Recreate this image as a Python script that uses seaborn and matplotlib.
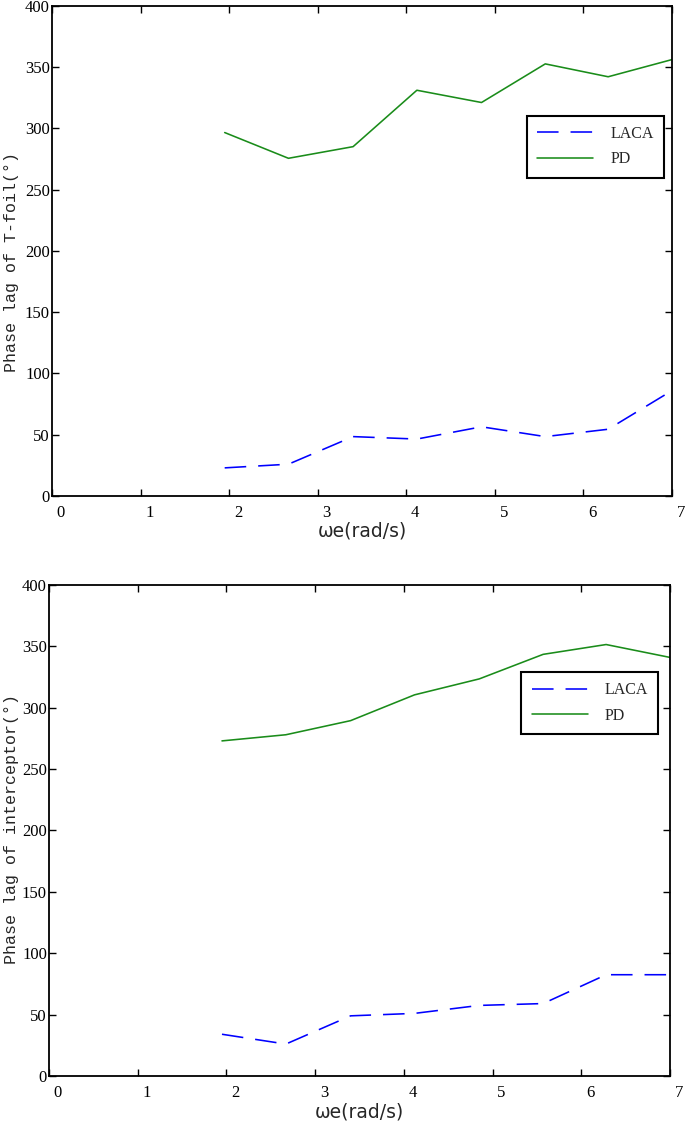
import matplotlib
matplotlib.use("Agg")
import matplotlib.pyplot as plt
import matplotlib.transforms as mtransforms
import seaborn as sns
import pandas as pd

# Data
omega = [1.95, 2.67, 3.40, 4.12, 4.85, 5.57, 6.28, 7.00]
tfoil_laca = [23, 26, 48.5, 46.5, 56.5, 48.5, 54.5, 86]
tfoil_pd = [296.5, 275.5, 285, 331, 321, 352.5, 342, 356]
inter_laca = [34, 26, 49, 51, 57.5, 59, 82.5, 82.5]
inter_pd = [273, 278, 289.5, 310.5, 323.5, 343.5, 351.5, 341]
xticks = [0, 1, 2, 3, 4, 5, 6, 7]
yticks = [0, 50, 100, 150, 200, 250, 300, 350, 400]
ylabels = ["Phase lag of T-foil(°)", "Phase lag of interceptor(°)"]
xlabel = "ωe(rad/s)"

sns.set_style("ticks")
plt.rcParams['font.family'] = ['Liberation Serif', 'DejaVu Serif']

fig = plt.figure(figsize=(6.85, 11.3), dpi=100)
ax1 = fig.add_axes([0.0759, 0.561, 0.905, 0.434])
ax2 = fig.add_axes([0.0715, 0.0478, 0.9066, 0.4345])

panels = [
    (ax1, tfoil_laca, tfoil_pd, ylabels[0], (0.987, 0.776), -0.053, 0.478, -0.051),
    (ax2, inter_laca, inter_pd, ylabels[1], (0.981, 0.823), -0.048, 0.503, -0.055),
]

offset = mtransforms.ScaledTranslation(0.09, 0, fig.dpi_scale_trans)

for ax, laca, pd_vals, ylab, legpos, ylx, yly, xly in panels:
    df = pd.DataFrame({"omega": omega, "LACA": laca, "PD": pd_vals})
    sns.lineplot(data=df, x="omega", y="LACA", ax=ax, color="#0000ff",
                 lw=1.15, label="LACA")
    ax.lines[-1].set_dashes([13.5, 7.5])
    sns.lineplot(data=df, x="omega", y="PD", ax=ax, color="#1a8c1a",
                 lw=1.15, label="PD")
    ax.set_xlim(0, 7)
    ax.set_ylim(0, 400)
    ax.set_xticks(xticks)
    ax.set_yticks(yticks)
    ax.tick_params(direction="in", top=True, right=True, length=5,
                   width=1, labelsize=12, colors="black")
    ax.tick_params(axis="x", pad=6.5)
    ax.tick_params(axis="y", pad=1.5)
    for tick in ax.xaxis.get_major_ticks():
        tick.label1.set_transform(tick.label1.get_transform() + offset)
    for s in ax.spines.values():
        s.set_linewidth(1.3)
        s.set_color("black")
    ax.set_ylabel(ylab, family=["Liberation Mono", "DejaVu Sans Mono"],
                  fontsize=12)
    ax.yaxis.set_label_coords(ylx, yly)
    ax.set_xlabel(xlabel, family=["DejaVu Sans"], fontsize=13.5)
    ax.xaxis.set_label_coords(0.5, xly)
    leg = ax.legend(loc="upper right", bbox_to_anchor=legpos, frameon=True,
                    fancybox=False, edgecolor="black", fontsize=11.5,
                    handlelength=3.5, borderpad=0.65, labelspacing=0.6,
                    handletextpad=1.05, borderaxespad=0)
    leg.get_frame().set_linewidth(1.5)
    leg.get_frame().set_alpha(1)

fig.savefig("out.png", dpi=100)
